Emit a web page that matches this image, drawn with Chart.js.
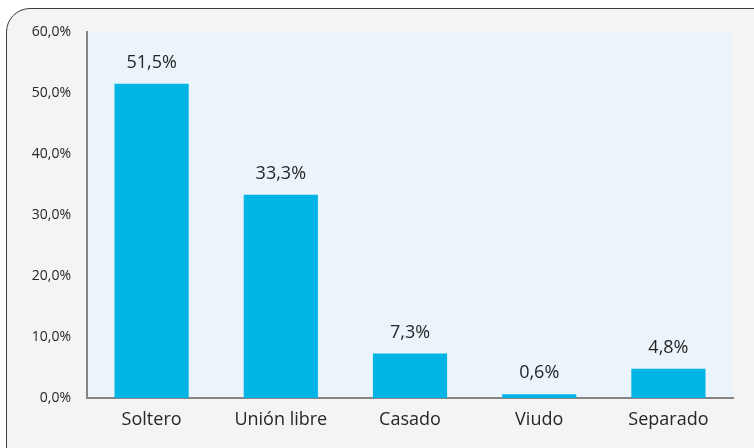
<!DOCTYPE html>
<html>
<head>
<meta charset="utf-8">
<script src="https://cdn.jsdelivr.net/npm/chart.js@4/dist/chart.umd.min.js"></script>
<style>
  html, body { margin: 0; padding: 0; background: #ffffff; overflow: hidden; }
  #wrap { position: relative; width: 754px; height: 448px; }
  #box {
    position: absolute; left: 6px; top: 8px; width: 770px; height: 470px;
    border: 1.5px solid #3c3c3c; border-radius: 24px; background: #f4f4f4;
  }
  canvas { position: absolute; left: 0; top: 0; }
</style>
</head>
<body>
<div id="wrap">
  <div id="box"></div>
  <canvas id="chart" width="754" height="448"></canvas>
</div>
<script>
// ---------- Data ----------
const categories = ['Soltero', 'Unión libre', 'Casado', 'Viudo', 'Separado'];
const percentages = [51.5, 33.3, 7.3, 0.6, 4.8];
const yTicks = [0, 10, 20, 30, 40, 50, 60];

const fmt = (v) => v.toFixed(1).replace('.', ',') + '%';
const FONT = "'Open Sans', sans-serif";

// Light blue plot background
const plotBg = {
  id: 'plotBg',
  beforeDraw(chart) {
    const { ctx, chartArea: a } = chart;
    ctx.save();
    ctx.fillStyle = '#eaf4fa';
    ctx.fillRect(a.left, a.top, a.right - a.left, a.bottom - a.top);
    ctx.restore();
  }
};

// Value labels above bars
const valueLabels = {
  id: 'valueLabels',
  afterDatasetsDraw(chart) {
    const { ctx } = chart;
    const meta = chart.getDatasetMeta(0);
    ctx.save();
    ctx.font = '18px ' + FONT;
    ctx.fillStyle = '#262626';
    ctx.textAlign = 'center';
    ctx.textBaseline = 'middle';
    meta.data.forEach((bar, i) => {
      ctx.fillText(fmt(percentages[i]), bar.x, bar.y - 21);
    });
    ctx.restore();
  }
};

new Chart(document.getElementById('chart'), {
  type: 'bar',
  data: {
    labels: categories,
    datasets: [{
      data: percentages,
      backgroundColor: '#00b5e6',
      barPercentage: 0.574,
      categoryPercentage: 1
    }]
  },
  options: {
    responsive: false,
    animation: false,
    layout: { padding: { top: 32, right: 21, left: 0, bottom: 0 } },
    plugins: {
      legend: { display: false },
      tooltip: { enabled: false }
    },
    scales: {
      x: {
        grid: { display: false },
        border: { display: true, color: '#858585', width: 2 },
        ticks: {
          color: '#262626',
          font: { family: FONT, size: 18 },
          padding: 3
        },
        afterFit: (s) => { s.height = 50; }
      },
      y: {
        min: 0,
        max: 60,
        afterBuildTicks: (s) => { s.ticks = yTicks.map(v => ({ value: v })); },
        grid: { display: false },
        border: { display: true, color: '#858585', width: 2 },
        ticks: {
          color: '#262626',
          font: { family: FONT, size: 14 },
          padding: 8,
          callback: (v) => fmt(v)
        },
        afterFit: (s) => { s.width = 87; }
      }
    }
  },
  plugins: [plotBg, valueLabels]
});
</script>
</body>
</html>
